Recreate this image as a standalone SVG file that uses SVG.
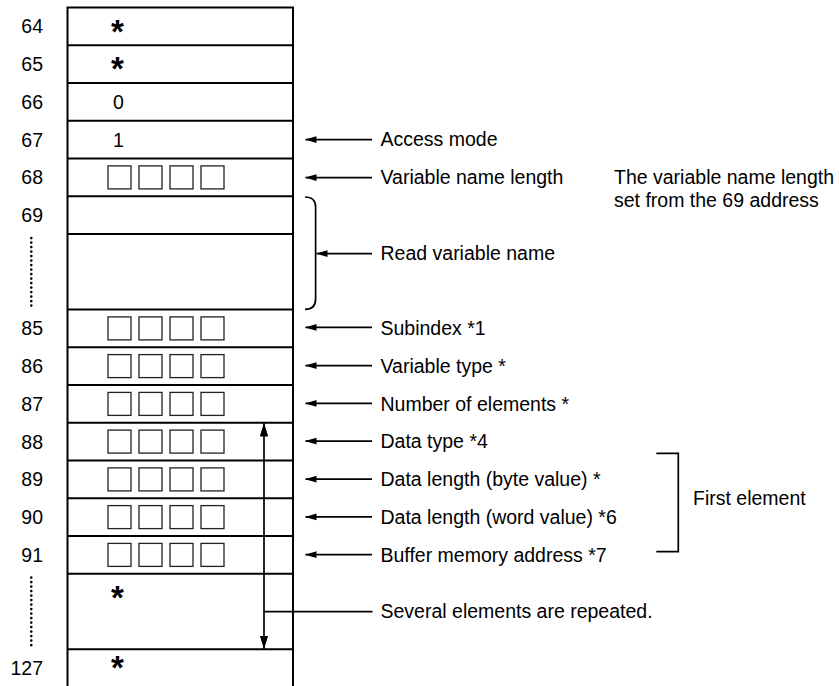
<svg xmlns="http://www.w3.org/2000/svg" width="839" height="686" viewBox="0 0 839 686">
<defs>
<marker id="ah" markerUnits="userSpaceOnUse" markerWidth="12" markerHeight="8" refX="11" refY="4" orient="auto" viewBox="0 0 12 8"><path d="M0,0.6 L11.5,4 L0,7.4 z" fill="#000"/></marker>
<marker id="ah2" markerUnits="userSpaceOnUse" markerWidth="14" markerHeight="9" refX="13.5" refY="4.5" orient="auto-start-reverse" viewBox="0 0 14 9"><path d="M0,0.3 L13.5,4.5 L0,8.7 z" fill="#000"/></marker>
</defs>
<style>
text{font-family:"Liberation Sans",Arial,Helvetica,sans-serif;font-size:19.5px;fill:#000}
.num{text-anchor:end}
.val{text-anchor:middle}
.star{font-size:33px;font-weight:bold;text-anchor:middle}
.grid{stroke:#000;stroke-width:2;fill:none}
.sq{fill:none;stroke:#222;stroke-width:1.3}
.conn{stroke:#000;stroke-width:1.7;fill:none}
.dot{stroke:#000;stroke-width:2.6;stroke-dasharray:0.1 4.4;stroke-linecap:round;fill:none}
</style>

<g id="table">
<path class="grid" d="M67.5,686 V7.5 H293 V686"/>
<path class="grid" d="M67.5,45.25 H293 M67.5,83 H293 M67.5,120.75 H293 M67.5,158.5 H293 M67.5,196.25 H293 M67.5,234 H293 M67.5,309.5 H293 M67.5,347.25 H293 M67.5,385 H293 M67.5,422.75 H293 M67.5,460.5 H293 M67.5,498.25 H293 M67.5,536 H293 M67.5,573.75 H293 M67.5,649.25 H293"/>
</g>

<g id="row64"><text class="num" x="43" y="33.4">64</text><text class="star" x="117.5" y="42.6">*</text></g>
<g id="row65"><text class="num" x="43" y="71.1">65</text><text class="star" x="117.5" y="80.2">*</text></g>
<g id="row66"><text class="num" x="43" y="108.9">66</text><text class="val" x="118.5" y="108.9">0</text></g>
<g id="row67"><text class="num" x="43" y="146.6">67</text><text class="val" x="118.5" y="146.6">1</text></g>
<g id="row68"><text class="num" x="43" y="184.4">68</text>
<rect class="sq" x="108" y="165.9" width="23" height="23"/><rect class="sq" x="139" y="165.9" width="23" height="23"/><rect class="sq" x="170" y="165.9" width="23" height="23"/><rect class="sq" x="201" y="165.9" width="23" height="23"/></g>
<g id="row69"><text class="num" x="43" y="222.1">69</text><line class="dot" x1="31.3" y1="238" x2="31.3" y2="306"/></g>
<g id="row85"><text class="num" x="43" y="335.4">85</text>
<rect class="sq" x="108" y="316.9" width="23" height="23"/><rect class="sq" x="139" y="316.9" width="23" height="23"/><rect class="sq" x="170" y="316.9" width="23" height="23"/><rect class="sq" x="201" y="316.9" width="23" height="23"/></g>
<g id="row86"><text class="num" x="43" y="373.1">86</text>
<rect class="sq" x="108" y="354.6" width="23" height="23"/><rect class="sq" x="139" y="354.6" width="23" height="23"/><rect class="sq" x="170" y="354.6" width="23" height="23"/><rect class="sq" x="201" y="354.6" width="23" height="23"/></g>
<g id="row87"><text class="num" x="43" y="410.9">87</text>
<rect class="sq" x="108" y="392.4" width="23" height="23"/><rect class="sq" x="139" y="392.4" width="23" height="23"/><rect class="sq" x="170" y="392.4" width="23" height="23"/><rect class="sq" x="201" y="392.4" width="23" height="23"/></g>
<g id="row88"><text class="num" x="43" y="448.6">88</text>
<rect class="sq" x="108" y="430.1" width="23" height="23"/><rect class="sq" x="139" y="430.1" width="23" height="23"/><rect class="sq" x="170" y="430.1" width="23" height="23"/><rect class="sq" x="201" y="430.1" width="23" height="23"/></g>
<g id="row89"><text class="num" x="43" y="486.4">89</text>
<rect class="sq" x="108" y="467.9" width="23" height="23"/><rect class="sq" x="139" y="467.9" width="23" height="23"/><rect class="sq" x="170" y="467.9" width="23" height="23"/><rect class="sq" x="201" y="467.9" width="23" height="23"/></g>
<g id="row90"><text class="num" x="43" y="524.1">90</text>
<rect class="sq" x="108" y="505.6" width="23" height="23"/><rect class="sq" x="139" y="505.6" width="23" height="23"/><rect class="sq" x="170" y="505.6" width="23" height="23"/><rect class="sq" x="201" y="505.6" width="23" height="23"/></g>
<g id="row91"><text class="num" x="43" y="561.9">91</text>
<rect class="sq" x="108" y="543.4" width="23" height="23"/><rect class="sq" x="139" y="543.4" width="23" height="23"/><rect class="sq" x="170" y="543.4" width="23" height="23"/><rect class="sq" x="201" y="543.4" width="23" height="23"/></g>
<g id="row92"><line class="dot" x1="31.3" y1="577.5" x2="31.3" y2="645.5"/><text class="star" x="117.5" y="609">*</text></g>
<g id="row127"><text class="num" x="43" y="675.1">127</text><text class="star" x="117.5" y="678.8">*</text></g>

<g id="labels">
<text x="380.5" y="146.3">Access mode</text>
<text x="380.5" y="184.1">Variable name length</text>
<text x="380.5" y="259.6">Read variable name</text>
<text x="380.5" y="335.1">Subindex *1</text>
<text x="380.5" y="372.8">Variable type *</text>
<text x="380.5" y="410.6">Number of elements *</text>
<text x="380.5" y="448.3">Data type *4</text>
<text x="380.5" y="486.1">Data length (byte value) *</text>
<text x="380.5" y="523.8">Data length (word value) *6</text>
<text x="380.5" y="561.6">Buffer memory address *7</text>
<text x="380.5" y="618.2">Several elements are repeated.</text>
</g>
<g id="note-length">
<text x="614" y="184.3">The variable name length</text>
<text x="614" y="206.8">set from the 69 address</text>
</g>
<g id="note-first">
<path class="conn" d="M656.3,453.3 H678.3 V551.7 H656.3" stroke-width="1.5"/>
<text x="693" y="505">First element</text>
</g>

<g id="connectors">
<line class="conn" x1="372" y1="139.6" x2="305.5" y2="139.6" marker-end="url(#ah)"/>
<line class="conn" x1="372" y1="177.6" x2="305.5" y2="177.6" marker-end="url(#ah)"/>
<path class="conn" d="M305,197 Q315.6,197 315.6,207 L315.6,299 Q315.6,309.4 305,309.4"/>
<line class="conn" x1="372" y1="253.6" x2="316.5" y2="253.6" marker-end="url(#ah)"/>
<line class="conn" x1="372" y1="327.4" x2="305.5" y2="327.4" marker-end="url(#ah)"/>
<line class="conn" x1="372" y1="365.6" x2="305.5" y2="365.6" marker-end="url(#ah)"/>
<line class="conn" x1="372" y1="403.4" x2="305.5" y2="403.4" marker-end="url(#ah)"/>
<line class="conn" x1="372" y1="441.1" x2="305.5" y2="441.1" marker-end="url(#ah)"/>
<line class="conn" x1="372" y1="479.2" x2="305.5" y2="479.2" marker-end="url(#ah)"/>
<line class="conn" x1="372" y1="516.9" x2="305.5" y2="516.9" marker-end="url(#ah)"/>
<line class="conn" x1="372" y1="554.7" x2="305.5" y2="554.7" marker-end="url(#ah)"/>
<line class="conn" x1="264" y1="611.6" x2="372.5" y2="611.6"/>
<line class="conn" x1="264" y1="649" x2="264" y2="423" marker-start="url(#ah2)" marker-end="url(#ah2)"/>
</g>
</svg>
